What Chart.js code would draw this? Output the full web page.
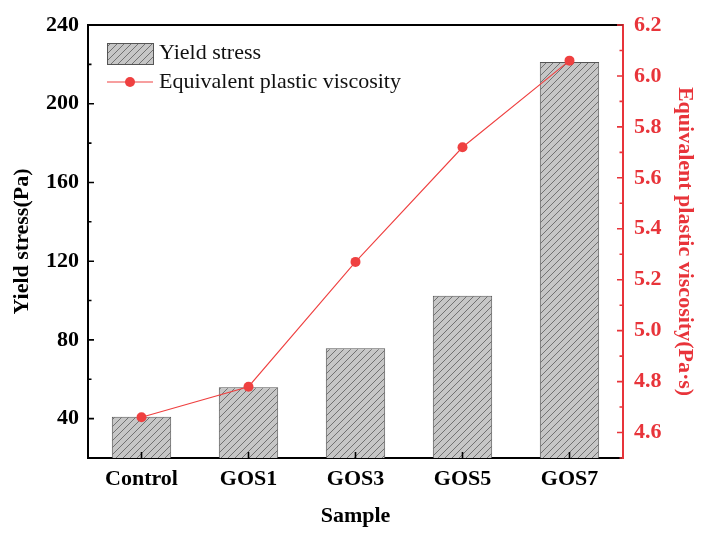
<!DOCTYPE html>
<html>
<head>
<meta charset="utf-8">
<title>Yield stress and plastic viscosity</title>
<script src="https://cdn.jsdelivr.net/npm/chart.js@4.4.0/dist/chart.umd.min.js"></script>
<style>
    html, body { margin: 0; padding: 0; background: #ffffff; }
    #wrap { width: 709px; height: 537px; }
</style>
</head>
<body>
<div id="wrap"><canvas id="chart_rheology" width="709" height="537"></canvas></div>
<script>
    // data
    const categories = ['Control', 'GOS1', 'GOS3', 'GOS5', 'GOS7'];
    const yield_stress = [41, 56, 75.8, 102.5, 221.2];
    const plastic_viscosity = [4.66, 4.78, 5.27, 5.72, 6.06];
    const left_ticks = [40, 80, 120, 160, 200, 240];
    const left_minor = [20, 60, 100, 140, 180, 220];
    const right_ticks = [4.6, 4.8, 5.0, 5.2, 5.4, 5.6, 5.8, 6.0, 6.2];
    const right_minor = [4.5, 4.7, 4.9, 5.1, 5.3, 5.5, 5.7, 5.9, 6.1];

    const red = '#e8343a';
    const line_red = '#ef4040';
    const serif = "'Times New Roman', 'Liberation Serif', serif";

    function hatchPattern() {
        const c = document.createElement('canvas');
        c.width = 7;
        c.height = 7;
        const g = c.getContext('2d');
        g.fillStyle = '#c6c6c6';
        g.fillRect(0, 0, 7, 7);
        g.strokeStyle = '#5c5c5c';
        g.lineWidth = 0.8;
        g.beginPath();
        g.moveTo(-1, 8); g.lineTo(8, -1);
        g.moveTo(-1, 1); g.lineTo(1, -1);
        g.moveTo(6, 8); g.lineTo(8, 6);
        g.stroke();
        return g.createPattern(c, 'repeat');
    }

    // top frame, inward ticks and the legend box
    const frame_plugin = {
        id: 'frame',
        afterDatasetsDraw(chart) {
            const ctx = chart.ctx;
            const a = chart.chartArea;
            const yl = chart.scales.y;
            const yr = chart.scales.y1;
            const x = chart.scales.x;
            ctx.save();
            ctx.lineWidth = 2;
            ctx.strokeStyle = '#000';
            ctx.beginPath();
            ctx.moveTo(a.left - 1, a.top);
            ctx.lineTo(a.right, a.top);
            ctx.stroke();
            ctx.lineWidth = 1.6;
            ctx.beginPath();
            left_ticks.forEach(v => { const p = yl.getPixelForValue(v); ctx.moveTo(a.left, p); ctx.lineTo(a.left + 6, p); });
            left_minor.forEach(v => { const p = yl.getPixelForValue(v); ctx.moveTo(a.left, p); ctx.lineTo(a.left + 3.5, p); });
            categories.forEach((c, i) => { const p = x.getPixelForValue(i); ctx.moveTo(p, a.bottom); ctx.lineTo(p, a.bottom - 6); });
            ctx.stroke();
            ctx.strokeStyle = red;
            ctx.beginPath();
            right_ticks.forEach(v => { const p = yr.getPixelForValue(v); ctx.moveTo(a.right, p); ctx.lineTo(a.right - 6, p); });
            right_minor.forEach(v => { const p = yr.getPixelForValue(v); ctx.moveTo(a.right, p); ctx.lineTo(a.right - 3.5, p); });
            ctx.stroke();

            // legend
            const lx = a.left + 19;
            ctx.fillStyle = chart.data.datasets[1].backgroundColor;
            ctx.fillRect(lx, 43, 46, 21);
            ctx.strokeStyle = '#555';
            ctx.lineWidth = 1;
            ctx.strokeRect(lx + 0.5, 43.5, 46, 21);
            ctx.strokeStyle = line_red;
            ctx.lineWidth = 1.1;
            ctx.beginPath();
            ctx.moveTo(lx, 82);
            ctx.lineTo(lx + 46, 82);
            ctx.stroke();
            ctx.fillStyle = line_red;
            ctx.beginPath();
            ctx.arc(lx + 23, 82, 5, 0, Math.PI * 2);
            ctx.fill();
            ctx.fillStyle = '#111';
            ctx.font = '22px ' + serif;
            ctx.textBaseline = 'middle';
            ctx.fillText(chart.data.datasets[1].label, lx + 52, 53);
            ctx.fillText(chart.data.datasets[0].label, lx + 52, 82);
            ctx.restore();
        }
    };

    const ctxR = document.getElementById('chart_rheology');

    new Chart(ctxR, {
        type: 'bar',
        data: {
        labels: categories,
        datasets: [{
            type: 'line',
            label: 'Equivalent plastic viscosity',
            data: plastic_viscosity,
            yAxisID: 'y1',
            order: 0,
            borderColor: line_red,
            backgroundColor: line_red,
            borderWidth: 1.1,
            pointRadius: 5,
            pointBorderWidth: 0,
            tension: 0
        }, {
            type: 'bar',
            label: 'Yield stress',
            data: yield_stress,
            yAxisID: 'y',
            order: 1,
            backgroundColor: hatchPattern(),
            borderColor: '#555',
            borderWidth: 1,
            borderSkipped: false,
            barPercentage: 0.555,
            categoryPercentage: 1
        }]
        },
        options: {
        responsive: false,
        animation: false,
        layout: {
            padding: { top: 25, left: 0, right: 0, bottom: 0 }
        },
        plugins: {
            legend: { display: false },
            tooltip: { enabled: false }
        },
        scales: {
            x: {
            afterFit(scale) { scale.height = 79; },
            grid: { display: false, drawTicks: false },
            border: { display: true, color: '#000', width: 2 },
            ticks: {
                color: '#000',
                padding: 8,
                font: { family: serif, size: 22, weight: 'bold' }
            },
            title: {
                display: true,
                text: 'Sample',
                color: '#000',
                padding: { top: 0, bottom: 7 },
                font: { family: serif, size: 22, weight: 'bold' }
            }
            },
            y: {
            position: 'left',
            min: 20,
            max: 240,
            afterFit(scale) { scale.width = 88; },
            afterBuildTicks(scale) { scale.ticks = left_ticks.map(v => ({ value: v })); },
            grid: { display: false, drawTicks: false },
            border: { display: true, color: '#000', width: 2 },
            ticks: {
                color: '#000',
                padding: 9,
                font: { family: serif, size: 22, weight: 'bold' }
            },
            title: {
                display: true,
                text: 'Yield stress(Pa)',
                color: '#000',
                padding: { top: 9, bottom: 0 },
                font: { family: serif, size: 22, weight: 'bold' }
            }
            },
            y1: {
            position: 'right',
            min: 4.5,
            max: 6.2,
            afterFit(scale) { scale.width = 86; },
            afterBuildTicks(scale) { scale.ticks = right_ticks.map(v => ({ value: v })); },
            grid: { display: false, drawTicks: false },
            border: { display: true, color: red, width: 2 },
            ticks: {
                color: red,
                padding: 11,
                callback: v => Number(v).toFixed(1),
                font: { family: serif, size: 22, weight: 'bold' }
            },
            title: {
                display: true,
                text: 'Equivalent plastic viscosity(Pa·s)',
                color: red,
                padding: { top: 11, bottom: 0 },
                font: { family: serif, size: 22, weight: 'bold' }
            }
            }
        }
        },
        plugins: [frame_plugin]
    });
</script>
</body>
</html>
